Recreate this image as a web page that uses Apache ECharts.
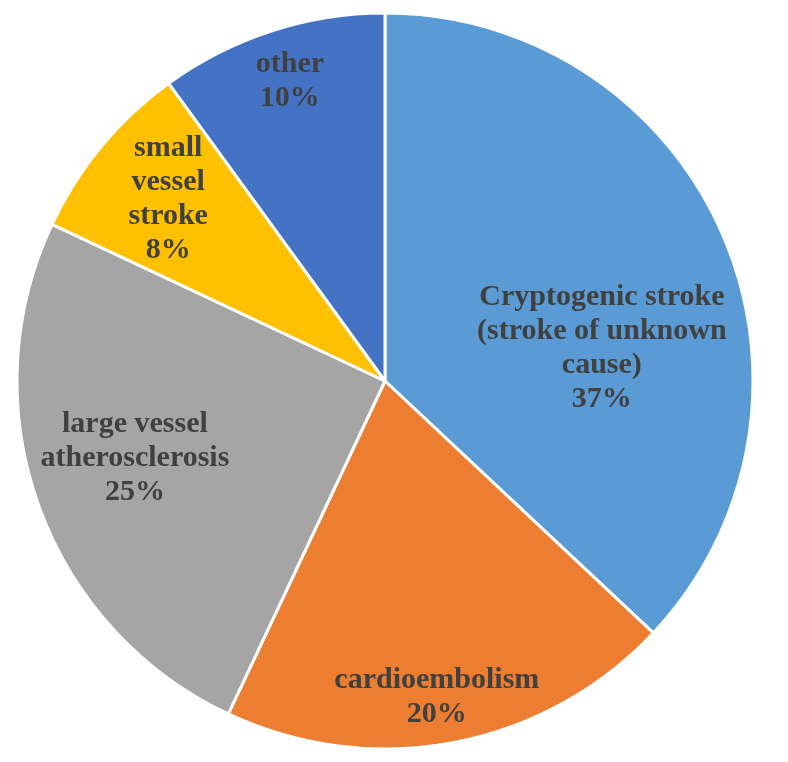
<!DOCTYPE html>
<html>
<head>
<meta charset="utf-8">
<script src="https://cdn.jsdelivr.net/npm/echarts@6/dist/echarts.min.js"></script>
<style>
  html, body { margin: 0; padding: 0; background: #ffffff; }
  #chart { width: 788px; height: 762px; }
</style>
</head>
<body>
<div id="chart"></div>
<script>
// ---- data ----
const categories = [
  'Cryptogenic stroke (stroke of unknown cause)',
  'cardioembolism',
  'large vessel atherosclerosis',
  'small vessel stroke',
  'other'
];
const labelText = [
  'Cryptogenic stroke\n(stroke of unknown\ncause)',
  'cardioembolism',
  'large vessel\natherosclerosis',
  'small\nvessel\nstroke',
  'other'
];
const values = [37, 20, 25, 8, 10];

// ---- style ----
const colors = ['#5B9BD5', '#ED7D31', '#A5A5A5', '#FFC000', '#4472C4'];
const CX = 385, CY = 381, R = 368;
// label placement: fraction of radius and angular shift (deg) from slice mid-angle
const labelRadiusFrac = [0.596, 0.872, 0.711, 0.769, 0.855];
const labelAngleShift = [14.8, 1.5, 2.7, 0.4, 0.4];

const total = values.reduce((a, b) => a + b, 0);
const midAngles = [];
let acc = 0;
values.forEach(v => { midAngles.push((acc + v / 2) / total * 360); acc += v; });

const chart = echarts.init(document.getElementById('chart'), null, { renderer: 'canvas' });
chart.setOption({
  backgroundColor: '#ffffff',
  animation: false,
  series: [{
    type: 'pie',
    center: [CX, CY],
    radius: [0, R],
    startAngle: 90,
    clockwise: true,
    avoidLabelOverlap: false,
    data: categories.map((c, i) => ({ name: c, value: values[i], itemStyle: { color: colors[i] } })),
    itemStyle: { borderColor: '#ffffff', borderWidth: 3 },
    label: {
      show: true,
      position: 'inside',
      formatter: p => labelText[p.dataIndex] + '\n' + values[p.dataIndex] + '%',
      fontFamily: '"Liberation Serif", "Times New Roman", serif',
      fontWeight: 'bold',
      fontSize: 30,
      lineHeight: 34,
      color: '#404040',
      align: 'center',
      verticalAlign: 'middle'
    },
    labelLine: { show: false },
    labelLayout: function (params) {
      const i = params.dataIndex;
      const a = (midAngles[i] + labelAngleShift[i]) * Math.PI / 180;
      const r = R * labelRadiusFrac[i];
      return {
        x: CX + r * Math.sin(a),
        y: CY - r * Math.cos(a),
        align: 'center',
        verticalAlign: 'middle'
      };
    },
    emphasis: { disabled: true }
  }]
});
</script>
</body>
</html>
